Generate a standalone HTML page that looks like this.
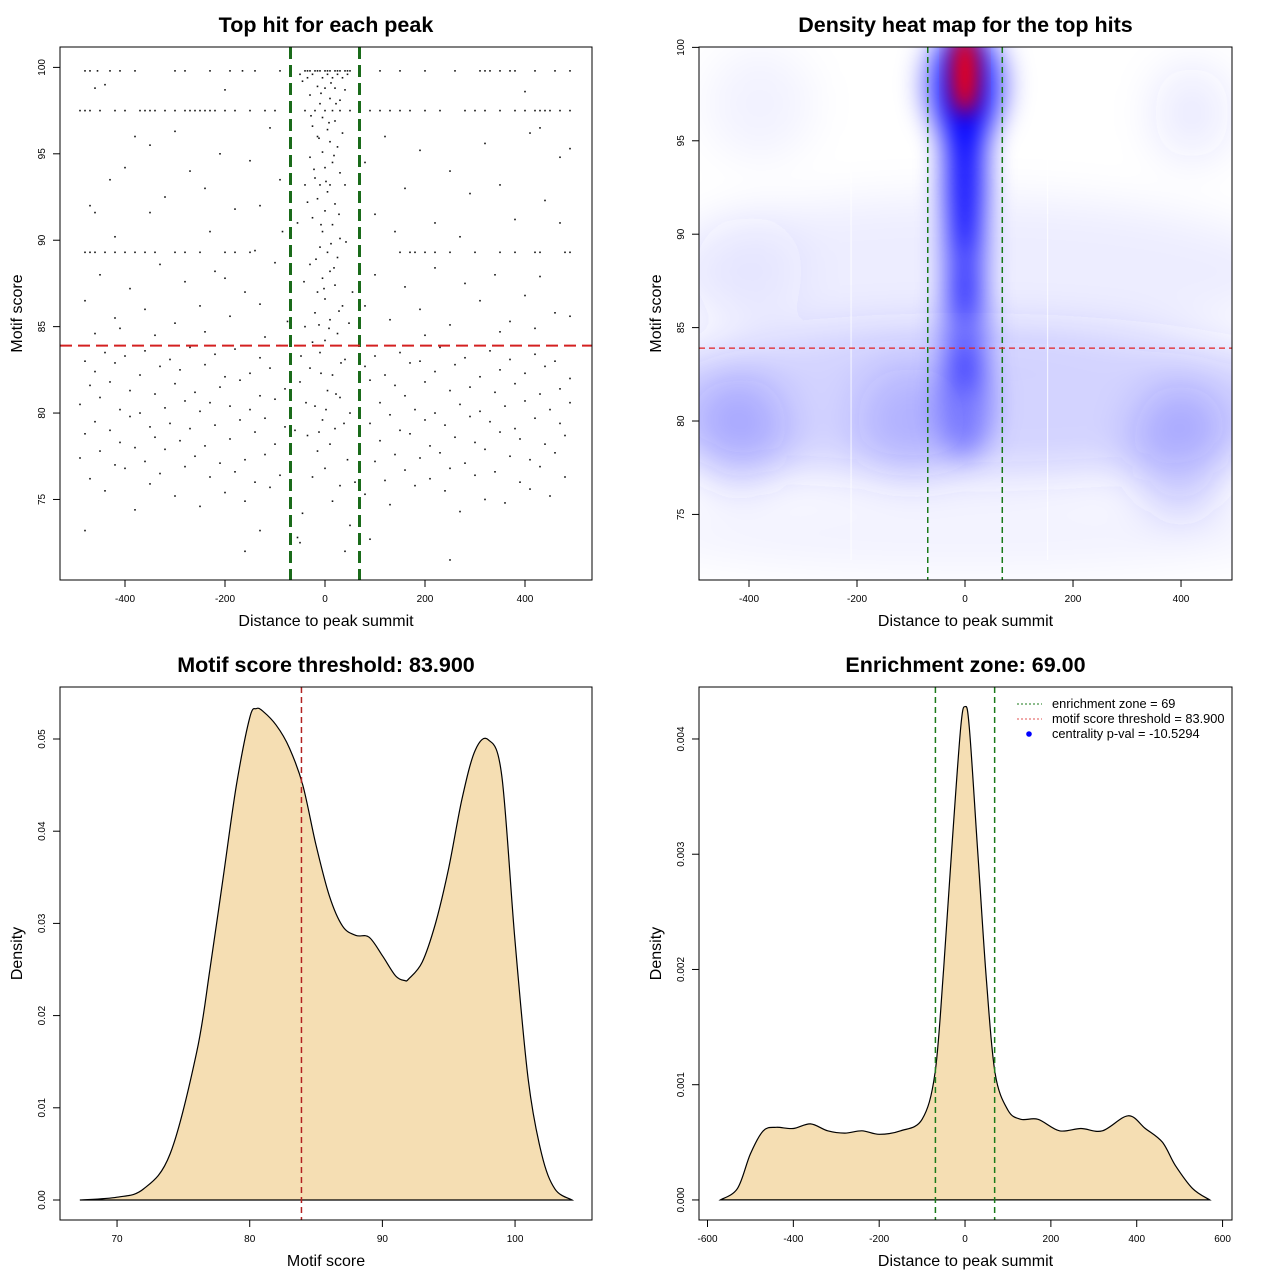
<!DOCTYPE html>
<html><head><meta charset="utf-8"><style>
html,body{margin:0;padding:0;background:#fff;}
svg text{font-family:"Liberation Sans",sans-serif;}
</style></head><body>
<svg id="root" width="1280" height="1280" viewBox="0 0 1280 1280" xmlns="http://www.w3.org/2000/svg">
<defs>
<filter id="blurBg" x="-50%" y="-50%" width="200%" height="200%"><feGaussianBlur stdDeviation="22"/></filter>
<filter id="blurCol" x="-50%" y="-50%" width="200%" height="200%"><feGaussianBlur stdDeviation="14"/></filter>
<filter id="blurPeak" x="-50%" y="-50%" width="200%" height="200%"><feGaussianBlur stdDeviation="10"/></filter>
<clipPath id="clipHeat"><rect x="699" y="47" width="533" height="533"/></clipPath>
</defs>
</svg>
<script>
// ---------- data ----------
const topHits = [
[-40,99.8],[-30,99.8],[-20,99.8],[-10,99.8],[0,99.8],[10,99.8],[20,99.8],[30,99.8],[40,99.8],[50,99.8],[-50,99.6],[-25,99.6],[5,99.6],[25,99.6],[45,99.6],[-35,99.4],[-5,99.4],[15,99.4],[35,99.4],[-15,98.9],[0,98.8],[20,98.8],[40,98.7],[-30,98.4],[10,98.2],[30,98.1],[-10,97.9],[-40,97.5],[-20,97.5],[0,97.5],[15,97.5],[30,97.5],[50,97.5],[-5,97.1],[20,96.9],[-25,96.6],[5,96.4],[35,96.2],[-15,96],[10,95.7],[25,95.4],[-5,95.1],[-30,94.8],[15,94.5],[0,94.2],[30,93.9],[-20,93.6],[-40,93.2],[-10,93.2],[10,93.2],[40,93.2],[5,92.8],[-15,92.4],[20,92.1],[0,91.7],[-25,91.3],[15,90.9],[-5,90.5],[30,90.1],[-10,89.6],[5,89.3],[25,89],[-30,88.6],[10,88.2],[-5,87.8],[20,87.4],[-15,87],[0,86.6],[35,86.2],[-20,85.8],[10,85.4],[-40,85],[25,84.6],[0,84.2],[-10,83.5],[40,83.1],[-30,82.6],[15,82.2],[-50,81.8],[5,81.3],[30,80.9],[-20,80.4],[50,80],[-5,79.6],[20,79.1],[-35,78.7],[10,78.2],[-15,77.8],[45,77.3],[0,76.8],[-25,76.3],[30,75.8],[15,74.9],[-45,74.2],[50,73.5],[-55,72.8],[60,76],[-60,79],[55,87],[-55,91],
[-35,99.8],[-15,99.8],[5,99.8],[25,99.8],[45,99.8],[-45,99.2],[12,99.1],[-8,98.5],[22,97.9],[-28,97.2],[8,96.8],[-12,95.9],[18,94.9],[-22,94.1],[2,93.4],[-35,92.2],[28,91.5],[-8,90.9],[12,89.8],[-18,88.9],[18,88.4],[-2,87.2],[28,85.9],[-12,85.1],[8,84.9],[-25,84.1],[32,82.9],[-8,82.3],[22,81.1],[-38,80.6],[2,80.2],[38,79.4],[-12,78.9],[-48,83.3],[48,85.2],[-42,87.6],[42,89.9],
[-480,99.8],[-470,99.8],[-455,99.8],[-430,99.8],[-410,99.8],[-380,99.8],[-300,99.8],[-280,99.8],[-230,99.8],[-190,99.8],[-165,99.8],[-140,99.8],[-90,99.8],[110,99.8],[150,99.8],[200,99.8],[260,99.8],[310,99.8],[320,99.8],[330,99.8],[350,99.8],[370,99.8],[380,99.8],[420,99.8],[460,99.8],[490,99.8],
[-490,97.5],[-480,97.5],[-470,97.5],[-450,97.5],[-420,97.5],[-400,97.5],[-370,97.5],[-360,97.5],[-350,97.5],[-340,97.5],[-320,97.5],[-300,97.5],[-280,97.5],[-270,97.5],[-260,97.5],[-250,97.5],[-240,97.5],[-230,97.5],[-220,97.5],[-200,97.5],[-180,97.5],[-150,97.5],[-120,97.5],[-100,97.5],[-70,97.5],[70,97.5],[90,97.5],[110,97.5],[130,97.5],[150,97.5],[170,97.5],[200,97.5],[230,97.5],[280,97.5],[300,97.5],[320,97.5],[350,97.5],[380,97.5],[400,97.5],[420,97.5],[430,97.5],[440,97.5],[450,97.5],[470,97.5],[490,97.5],
[-480,89.3],[-470,89.3],[-460,89.3],[-440,89.3],[-420,89.3],[-400,89.3],[-380,89.3],[-360,89.3],[-340,89.3],[-300,89.3],[-280,89.3],[-250,89.3],[-200,89.3],[-180,89.3],[-150,89.3],[150,89.3],[170,89.3],[180,89.3],[200,89.3],[220,89.3],[250,89.3],[300,89.3],[350,89.3],[380,89.3],[420,89.3],[430,89.3],[480,89.3],[490,89.3],
[-460,98.8],[-440,99],[400,98.6],[-200,98.7],
[-470,92],[-460,91.6],[-430,93.5],[-400,94.2],[-380,96],[-350,95.5],[-320,92.5],[-300,96.3],[-270,94],[-240,93],[-210,95],[-180,91.8],[-150,94.6],[-130,92],[-110,96.5],[-90,93.5],[-70,95.5],[-85,90.5],[-230,90.5],[-420,90.2],[-350,91.6],[80,94.5],[100,91.5],[120,96],[160,93],[190,95.2],[220,91],[250,94],[290,92.7],[320,95.6],[350,93.2],[380,91.2],[410,96.2],[440,92.3],[470,94.8],[490,95.3],[430,96.5],[140,90.5],[270,90.2],[470,91],
[-480,86.5],[-450,88],[-420,85.5],[-390,87.2],[-360,86],[-330,88.6],[-300,85.2],[-280,87.6],[-250,86.2],[-220,88.2],[-190,85.6],[-160,87],[-130,86.3],[-100,88.7],[-75,85.3],[-460,84.6],[-410,84.9],[-340,84.5],[-240,84.7],[-120,84.4],[80,86.2],[100,88],[130,85.4],[160,87.3],[190,86],[220,88.4],[250,85.1],[280,87.5],[310,86.5],[340,88],[370,85.3],[400,86.8],[430,87.9],[460,85.8],[490,85.6],[350,84.7],[200,84.5],[420,84.9],[-200,87.8],[-140,89.4],
[-490,80.5],[-490,77.4],[-480,83],[-480,78.8],[-470,81.6],[-470,76.2],[-460,79.5],[-460,82.4],[-450,77.8],[-450,80.9],[-440,83.5],[-440,75.5],[-430,79],[-430,81.8],[-420,77],[-420,82.9],[-410,80.2],[-410,78.3],[-400,83.3],[-400,76.8],[-390,79.8],[-390,81.3],[-380,78],[-380,74.4],[-370,82.2],[-370,80],[-360,77.2],[-360,83.6],[-350,79.2],[-350,75.9],[-340,81.1],[-340,78.6],[-330,82.7],[-330,76.5],[-320,80.3],[-320,77.9],[-310,83.1],[-310,79.4],[-300,75.2],[-300,81.7],[-290,78.4],[-290,82.5],[-280,80.7],[-280,76.9],[-270,79.1],[-270,83.8],[-260,77.5],[-260,81.2],[-250,74.6],[-250,80.1],[-240,82.8],[-240,78.1],[-230,76.3],[-230,80.6],[-220,83.4],[-220,79.3],[-210,77.1],[-210,81.5],[-200,75.4],[-200,82.1],[-190,80.4],[-190,78.5],[-180,83.7],[-180,76.6],[-170,79.6],[-170,81.9],[-160,77.3],[-160,74.9],[-150,82.3],[-150,80.2],[-140,78.9],[-140,76],[-130,83.2],[-130,81],[-120,79.7],[-120,77.6],[-110,82.6],[-110,75.7],[-100,80.8],[-100,78.2],[-90,83.9],[-90,76.4],[-80,81.4],[-80,79.2],[-70,77],[-70,82],
[70,80.3],[70,77.8],[80,82.7],[80,75.3],[90,79.4],[90,81.9],[100,77.2],[100,83.3],[110,80.6],[110,78.4],[120,76.1],[120,82.2],[130,79.9],[130,74.7],[140,81.6],[140,77.6],[150,83.5],[150,79],[160,76.7],[160,81],[170,78.8],[170,82.9],[180,75.8],[180,80.2],[190,83],[190,77.4],[200,79.6],[200,81.8],[210,76.2],[210,78.1],[220,82.4],[220,80],[230,77.7],[230,83.8],[240,75.5],[240,79.3],[250,81.3],[250,76.8],[260,78.6],[260,82.8],[270,80.5],[270,74.3],[280,77.1],[280,83.2],[290,79.8],[290,81.5],[300,76.4],[300,78.3],[310,82.1],[310,80.1],[320,75],[320,77.9],[330,83.6],[330,79.5],[340,81.2],[340,76.6],[350,78.9],[350,82.5],[360,80.4],[360,74.8],[370,77.5],[370,83.1],[380,79.1],[380,81.7],[390,76],[390,78.5],[400,82.3],[400,80.7],[410,75.6],[410,77.3],[420,83.4],[420,79.7],[430,81.1],[430,76.9],[440,78.2],[440,82.7],[450,80.2],[450,75.2],[460,77.7],[460,83],[470,79.4],[470,81.4],[480,76.3],[480,78.7],[490,82],[490,80.6],
[-480,73.2],[-160,72],[-130,73.2],[90,72.7],[250,71.5],[-50,72.5],[40,72]
];
// heat map blobs: [distance, score, rxUnits, ryUnits, weight]
const heatBackground = [[0,81,700,4,0.22],[-420,79.5,90,3,0.25],[-100,80,100,3,0.2],[400,78.5,90,3.5,0.25],[0,88,600,4,0.07],[-400,88,100,3,0.06],[-380,97,100,3,0.05],[420,96.5,70,2.5,0.1],[0,74,600,2,0.05]];
const heatColumn = [[0,98,75,3,0.6],[0,97,45,4,1.0],[0,93,36,4,0.95],[0,89,34,3.5,0.7],[0,85,40,3.5,0.5],[0,81,52,3,0.38]];
const heatPeak = [[0,98.6,24,2.2,1.0]];
// density of motif score
const scoreX = [67.2,70,72,74,76,77,78,79,80,80.5,81,82,83,84,85,86,87,88,89,90,91,91.7,92,93,94,95,96,97,98,99,100,101,102,103,104.3];
const scoreD = [0,0.0003,0.0012,0.005,0.016,0.025,0.035,0.045,0.0523,0.0533,0.053,0.0515,0.049,0.045,0.0385,0.033,0.0297,0.0287,0.0285,0.0265,0.0243,0.0238,0.024,0.0258,0.03,0.036,0.0435,0.0488,0.0499,0.046,0.028,0.013,0.005,0.0012,0];
// density of distance
const distX = [-570,-530,-500,-470,-440,-400,-360,-320,-280,-240,-200,-150,-100,-70,-50,-30,-10,0,10,30,50,70,100,130,170,220,270,320,380,420,460,490,530,570];
const distD = [0,0.0001,0.0004,0.0006,0.00063,0.00062,0.00066,0.0006,0.00058,0.0006,0.00057,0.0006,0.0007,0.0011,0.002,0.0031,0.0041,0.00428,0.0041,0.003,0.0019,0.0011,0.00078,0.0007,0.0007,0.0006,0.00062,0.0006,0.00073,0.00062,0.0005,0.0003,0.0001,0];
const zone = 69, threshold = 83.9;
const xTicks1 = [-400,-200,0,200,400], yTicks1 = [75,80,85,90,95,100];
const xTicks3 = [70,80,90,100], yTicks3 = [0,0.01,0.02,0.03,0.04,0.05];
const xTicks4 = [-600,-400,-200,0,200,400,600], yTicks4 = [0,0.001,0.002,0.003,0.004];
const yLab3 = ["0.00","0.01","0.02","0.03","0.04","0.05"], yLab4 = ["0.000","0.001","0.002","0.003","0.004"];

// ---------- helpers ----------
const NS = "http://www.w3.org/2000/svg";
const root = document.getElementById('root');
function mk(tag, attrs, parent){const e=document.createElementNS(NS,tag);for(const k in attrs)e.setAttribute(k,attrs[k]);(parent||root).appendChild(e);return e;}
function lin(d0,d1,p0,p1){return v=>p0+(v-d0)*(p1-p0)/(d1-d0);}
function txt(x,y,s,size,opts,parent){const t=mk('text',Object.assign({x:x,y:y,'font-size':size,'text-anchor':'middle',fill:'#000'},opts||{}),parent);t.textContent=s;return t;}
function smooth(P){let d='M'+P[0][0].toFixed(1)+','+P[0][1].toFixed(1);
  for(let i=0;i<P.length-1;i++){const p0=P[Math.max(0,i-1)],p1=P[i],p2=P[i+1],p3=P[Math.min(P.length-1,i+2)];
    const c1=[p1[0]+(p2[0]-p0[0])/6,p1[1]+(p2[1]-p0[1])/6],c2=[p2[0]-(p3[0]-p1[0])/6,p2[1]-(p3[1]-p1[1])/6];
    d+=` C${c1[0].toFixed(1)},${c1[1].toFixed(1)} ${c2[0].toFixed(1)},${c2[1].toFixed(1)} ${p2[0].toFixed(1)},${p2[1].toFixed(1)}`;}
  return d;}

function panel(name,x0,y0,x1,y1,dx,dy,title,xtitle,ytitle,xt,yt,ylabs){
  const g=mk('g',{});
  
  
  const sx=lin(dx[0],dx[1],x0,x1), sy=lin(dy[0],dy[1],y1,y0);
  const t=txt((x0+x1)/2,y0-15,title,21.5,{'font-weight':'bold'},g);
  
  
  const xa=mk('g',{},g);
  
  
  xt.forEach(v=>{const p=sx(v);mk('line',{x1:p,x2:p,y1:y1,y2:y1+7,stroke:'#000'},xa);txt(p,y1+22,String(v),10,{},xa);});
  const ya=mk('g',{},g);
  
  
  yt.forEach((v,i)=>{const p=sy(v);mk('line',{x1:x0,x2:x0-7,y1:p,y2:p,stroke:'#000'},ya);txt(x0-15,p,ylabs?ylabs[i]:String(v),10,{transform:`rotate(-90 ${x0-15} ${p})`},ya);});
  const xtl=txt((x0+x1)/2,y1+46,xtitle,16,{},g);
  
  
  const ytl=txt(22,(y0+y1)/2,ytitle,16,{transform:`rotate(-90 ${x0-38} ${(y0+y1)/2})`,x:x0-38},g);
  
  
  return {g,sx,sy,box:()=>{mk('rect',{x:x0,y:y0,width:x1-x0,height:y1-y0,fill:'none',stroke:'#000'},g);}};
}

// ---------- panel 1: scatter ----------
const p1=panel('top-hit-scatter',60,47,592,580,[-530,534],[70.34,101.18],'Top hit for each peak','Distance to peak summit','Motif score',xTicks1,yTicks1);
const pts=mk('g',{fill:'#111'},p1.g);


topHits.forEach(h=>{mk('rect',{x:p1.sx(h[0])-0.8,y:p1.sy(h[1])-0.8,width:1.6,height:1.6},pts);});
[-zone,zone].forEach(z=>{const l=mk('line',{x1:p1.sx(z),x2:p1.sx(z),y1:47,y2:580,stroke:'#1a6b1a','stroke-width':3,'stroke-dasharray':'12 6'},p1.g);

});
{const l=mk('line',{x1:60,x2:592,y1:p1.sy(threshold),y2:p1.sy(threshold),stroke:'#d42020','stroke-width':2,'stroke-dasharray':'12 6'},p1.g);

}
p1.box();

// ---------- panel 2: heat map ----------
const p2=panel('density-heatmap',699,47,1232,580,[-492.6,494.4],[71.49,100.02],'Density heat map for the top hits','Distance to peak summit','Motif score',xTicks1,[75,80,85,90,95,100]);
const hg=mk('g',{'clip-path':'url(#clipHeat)'},p2.g);


const kx=533/987, ky=533/28.53;
const bg=mk('g',{filter:'url(#blurBg)'},hg);
heatBackground.forEach(b=>{mk('ellipse',{cx:p2.sx(b[0]),cy:p2.sy(b[1]),rx:b[2]*kx,ry:b[3]*ky,fill:'#3030ff','fill-opacity':b[4]},bg);});
const cg=mk('g',{filter:'url(#blurCol)'},hg);
heatColumn.forEach(b=>{mk('ellipse',{cx:p2.sx(b[0]),cy:p2.sy(b[1]),rx:b[2]*kx,ry:b[3]*ky,fill:'#0000ff','fill-opacity':b[4]},cg);});
const pg=mk('g',{filter:'url(#blurPeak)'},hg);
heatPeak.forEach(b=>{mk('ellipse',{cx:p2.sx(b[0]),cy:p2.sy(b[1]),rx:b[2]*kx,ry:b[3]*ky,fill:'#ff0000','fill-opacity':b[4]},pg);});
[-211,153].forEach(v=>{mk('line',{x1:p2.sx(v),x2:p2.sx(v),y1:47,y2:560,stroke:'#fff','stroke-width':1,'stroke-opacity':0.8},hg);});
[-zone,zone].forEach(z=>{const l=mk('line',{x1:p2.sx(z),x2:p2.sx(z),y1:47,y2:580,stroke:'#1a7a1a','stroke-width':1.5,'stroke-dasharray':'6 4'},p2.g);

});
{const l=mk('line',{x1:699,x2:1232,y1:p2.sy(threshold),y2:p2.sy(threshold),stroke:'#e02020','stroke-width':1.2,'stroke-dasharray':'6 4'},p2.g);

}
p2.box();

// ---------- panel 3: score density ----------
const p3=panel('score-density',60,687,592,1220,[65.7,105.8],[-0.00217,0.05564],'Motif score threshold: 83.900','Motif score','Density',xTicks3,yTicks3,yLab3);
{const d=smooth(scoreX.map((x,i)=>[p3.sx(x),p3.sy(scoreD[i])]));
const a=mk('path',{d:d+'Z',fill:'#f5deb3',stroke:'#000','stroke-width':1.2},p3.g);


mk('line',{x1:p3.sx(scoreX[0]),x2:p3.sx(scoreX[scoreX.length-1]),y1:p3.sy(0),y2:p3.sy(0),stroke:'#000'},p3.g);
const l=mk('line',{x1:p3.sx(threshold),x2:p3.sx(threshold),y1:687,y2:1220,stroke:'#b22222','stroke-width':1.5,'stroke-dasharray':'6 4'},p3.g);

}
p3.box();

// ---------- panel 4: distance density ----------
const p4=panel('distance-density',699,687,1232,1220,[-619.8,622],[-0.000174,0.004451],'Enrichment zone: 69.00','Distance to peak summit','Density',xTicks4,yTicks4,yLab4);
{const d=smooth(distX.map((x,i)=>[p4.sx(x),p4.sy(distD[i])]));
const a=mk('path',{d:d+'Z',fill:'#f5deb3',stroke:'#000','stroke-width':1.2},p4.g);


mk('line',{x1:p4.sx(distX[0]),x2:p4.sx(distX[distX.length-1]),y1:p4.sy(0),y2:p4.sy(0),stroke:'#000'},p4.g);
[-zone,zone].forEach(z=>{const l=mk('line',{x1:p4.sx(z),x2:p4.sx(z),y1:687,y2:1220,stroke:'#1a7a1a','stroke-width':1.5,'stroke-dasharray':'6 4'},p4.g);

});}
const lg=mk('g',{},p4.g);


mk('line',{x1:1017,x2:1042,y1:704,y2:704,stroke:'#1a7a1a','stroke-dasharray':'2 2'},lg);
mk('line',{x1:1017,x2:1042,y1:719,y2:719,stroke:'#e05050','stroke-dasharray':'2 2'},lg);
mk('circle',{cx:1029,cy:734,r:2.8,fill:'#0000ff'},lg);
txt(1052,708,'enrichment zone = 69',12.8,{'text-anchor':'start'},lg);
txt(1052,723,'motif score threshold = 83.900',12.8,{'text-anchor':'start'},lg);
txt(1052,738,'centrality p-val = -10.5294',12.8,{'text-anchor':'start'},lg);
p4.box();
</script>
</body></html>
